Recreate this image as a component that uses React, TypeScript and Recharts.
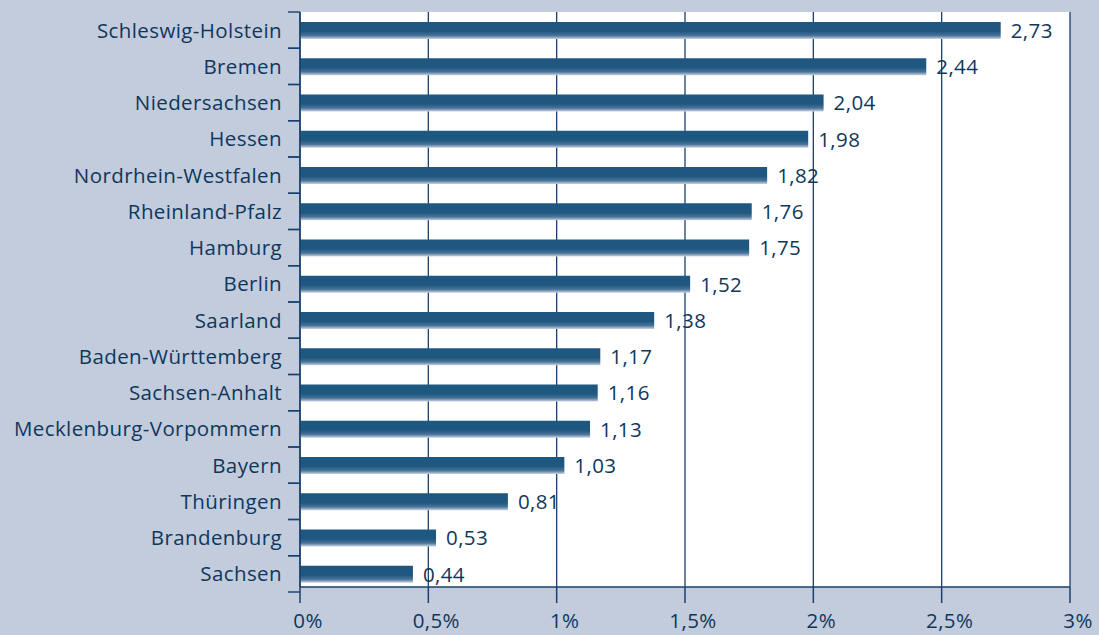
import React from "react";
import { BarChart, Bar, XAxis, YAxis, CartesianGrid, LabelList } from "recharts";

const states = [
  "Schleswig-Holstein",
  "Bremen",
  "Niedersachsen",
  "Hessen",
  "Nordrhein-Westfalen",
  "Rheinland-Pfalz",
  "Hamburg",
  "Berlin",
  "Saarland",
  "Baden-Württemberg",
  "Sachsen-Anhalt",
  "Mecklenburg-Vorpommern",
  "Bayern",
  "Thüringen",
  "Brandenburg",
  "Sachsen",
];
const values = [2.73, 2.44, 2.04, 1.98, 1.82, 1.76, 1.75, 1.52, 1.38, 1.17, 1.16, 1.13, 1.03, 0.81, 0.53, 0.44];
const xTicks = [0, 0.5, 1, 1.5, 2, 2.5, 3];

const data = states.map((name, i) => ({ name, value: values[i] }));

const BG = "#c2ccdc";
const INK = "#0f375c";
const LINE = "#1a406b";
const FONT = "'Open Sans', 'Noto Sans', sans-serif";

const fmt = (v: number) => String(v).replace(".", ",");

const YTick = (props: any) => {
  const { x, y, payload } = props;
  const off = payload && typeof payload.offset === "number" && payload.offset > 0 ? payload.offset : 18;
  return (
    <g>
      <line x1={x - 4} x2={x + 8} y1={y - off} y2={y - off} stroke={LINE} strokeWidth={1.4} />
      <line x1={x - 4} x2={x + 8} y1={y + off} y2={y + off} stroke={LINE} strokeWidth={1.4} />
      <text
        x={x - 10}
        y={y}
        dy="0.36em"
        textAnchor="end"
        fill={INK}
        fontSize={20.5}
        fontWeight={500}
        letterSpacing={0.4}
        fontFamily={FONT}
      >
        {payload.value}
      </text>
    </g>
  );
};

const XTick = (props: any) => {
  const { x, y, payload } = props;
  return (
    <text
      x={x + 8}
      y={y}
      dy="0.71em"
      textAnchor="middle"
      fill={INK}
      fontSize={20.5}
      fontWeight={500}
      letterSpacing={0.4}
      fontFamily={FONT}
    >
      {fmt(payload.value) + "%"}
    </text>
  );
};

export default function App() {
  return (
    <div style={{ position: "absolute", left: 0, top: 0, width: 1099, height: 635, background: BG }}>
      <BarChart
        width={1099}
        height={635}
        data={data}
        layout="vertical"
        margin={{ top: 12, right: 29, bottom: 0, left: 0 }}
        barCategoryGap={0}
      >
        <defs>
          <linearGradient id="barGrad" x1="0" y1="0" x2="0" y2="1">
            <stop offset="0%" stopColor="#1e5780" />
            <stop offset="55%" stopColor="#1e5780" />
            <stop offset="80%" stopColor="#4a7398" />
            <stop offset="100%" stopColor="#c9d3e2" />
          </linearGradient>
        </defs>
        <CartesianGrid horizontal={false} vertical stroke={LINE} strokeWidth={1.3} fill="#ffffff" fillOpacity={1} />
        <XAxis
          type="number"
          domain={[0, 3]}
          ticks={xTicks}
          interval={0}
          height={48}
          tickSize={16}
          tickMargin={10}
          axisLine={{ stroke: LINE, strokeWidth: 1.5 }}
          tickLine={{ stroke: LINE, strokeWidth: 1.5 }}
          tick={<XTick />}
        />
        <XAxis
          xAxisId="top"
          orientation="top"
          type="number"
          domain={[0, 3]}
          height={0}
          tick={false}
          tickLine={false}
          axisLine={{ stroke: LINE, strokeWidth: 1.5 }}
        />
        <YAxis
          type="category"
          dataKey="name"
          width={300}
          interval={0}
          tickLine={false}
          padding={{ top: 0, bottom: -5 }}
          axisLine={{ stroke: LINE, strokeWidth: 1.5 }}
          tick={<YTick />}
        />
        <Bar dataKey="value" fill="url(#barGrad)" barSize={17} isAnimationActive={false}>
          <LabelList
            dataKey="value"
            position="right"
            offset={10}
            formatter={(v: any) => fmt(Number(v))}
            fill={INK}
            fontSize={20.5}
            fontWeight={500}
            letterSpacing={0.4}
            fontFamily={FONT}
          />
        </Bar>
      </BarChart>
    </div>
  );
}
